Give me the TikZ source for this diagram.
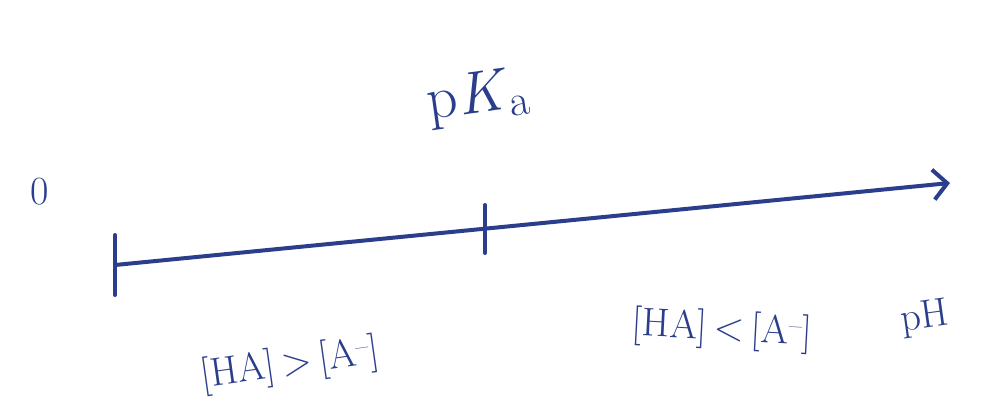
\documentclass[tikz,border=0pt]{standalone}
\usetikzlibrary{arrows.meta}
\definecolor{ink}{HTML}{2B3E8C}
\begin{document}
\begin{tikzpicture}[x=1pt,y=-1pt,
  pen/.style={draw=ink,line width=4pt,line cap=round,line join=round},
  lbl/.style={text=ink,inner sep=0pt,font=\fontsize{40}{44}\selectfont}]
\useasboundingbox (0,0) rectangle (990,416);
\fill[white] (0,0) rectangle (990,416);
\coordinate (start) at (115,265);
\coordinate (mid) at (485,229);
\coordinate (end) at (950,183);
\draw[pen,-{Straight Barb[length=14pt,width=30pt,line width=4pt]}] (start) -- (end);
\draw[pen] ([yshift=-30pt]start) -- ([yshift=30pt]start);
\draw[pen] ([yshift=-24pt]mid) -- ([yshift=24pt]mid);
\node[lbl] (zero) at (40,192) {0};
\node[lbl,font=\fontsize{60}{66}\selectfont,rotate=8] (pka) at (478,98) {p\textit{K}\raisebox{-8pt}{\fontsize{44}{48}\selectfont a}};
\node[lbl,rotate=8] (left) at (290,365) {[HA]\,\textgreater\,[A\textsuperscript{--}]};
\node[lbl,rotate=-3] (right) at (722,330) {[HA]\,\textless\,[A\textsuperscript{--}]};
\node[lbl,rotate=8] (ph) at (925,318) {pH};
\end{tikzpicture}
\end{document}
